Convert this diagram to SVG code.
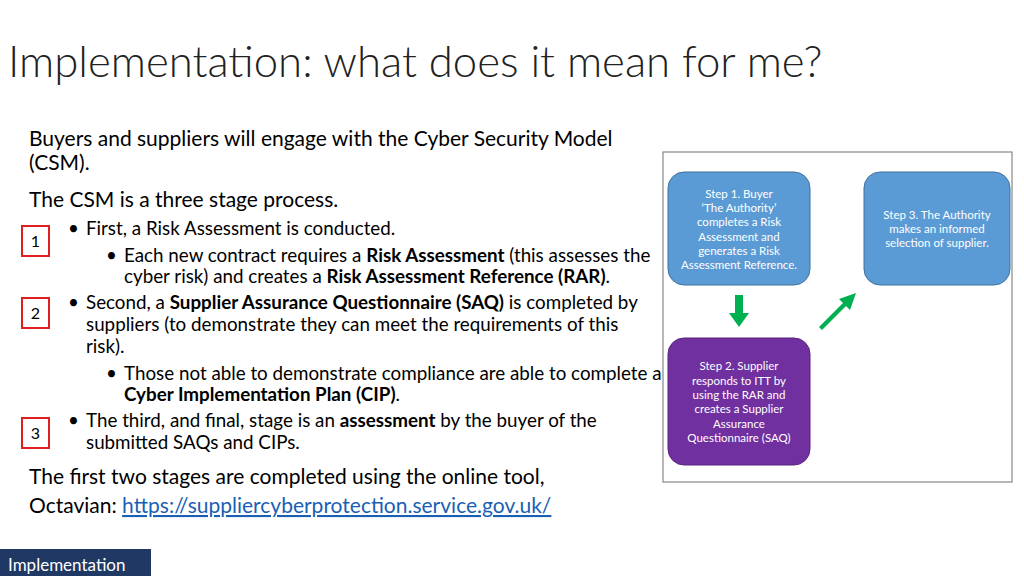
<svg xmlns="http://www.w3.org/2000/svg" width="1024" height="576" viewBox="0 0 1024 576">
<style>
text{font-family:Lato,"Open Sans","Liberation Sans",sans-serif;fill:#000}
.t{font-size:43.7px;fill:#222;font-weight:300}
.b{font-size:21px}
.s{font-size:18.8px}
.n{font-size:11.5px;fill:#fff;text-anchor:middle}
.num{font-size:16px;text-anchor:middle}
.box{fill:none;stroke:#e02020;stroke-width:2}
</style>
<rect width="1024" height="576" fill="#fff"/>
<text class="t" x="8" y="77">Implementation: what does it mean for me?</text>
<text class="b" x="29" y="146">Buyers and suppliers will engage with the Cyber Security Model</text>
<text class="b" x="29" y="170">(CSM).</text>
<text class="b" x="29" y="207">The CSM is a three stage process.</text>
<text class="s" x="68" y="235">•</text><text class="s" x="86" y="235">First, a Risk Assessment is conducted.</text>
<text class="s" x="106" y="262">•</text><text class="s" x="124" y="262">Each new contract requires a <tspan font-weight="bold">Risk Assessment</tspan> (this assesses the</text>
<text class="s" x="124" y="283">cyber risk) and creates a <tspan font-weight="bold">Risk Assessment Reference (RAR)</tspan>.</text>
<text class="s" x="68" y="309">•</text><text class="s" x="86" y="309">Second, a <tspan font-weight="bold">Supplier Assurance Questionnaire (SAQ)</tspan> is completed by</text>
<text class="s" x="86" y="331">suppliers (to demonstrate they can meet the requirements of this</text>
<text class="s" x="86" y="353">risk).</text>
<text class="s" x="106" y="380">•</text><text class="s" x="124" y="380">Those not able to demonstrate compliance are able to complete a</text>
<text class="s" x="124" y="401"><tspan font-weight="bold">Cyber Implementation Plan (CIP)</tspan>.</text>
<text class="s" x="68" y="427">•</text><text class="s" x="86" y="427">The third, and final, stage is an <tspan font-weight="bold">assessment</tspan> by the buyer of the</text>
<text class="s" x="86" y="449">submitted SAQs and CIPs.</text>
<text class="b" x="29" y="484">The first two stages are completed using the online tool,</text>
<text class="b" x="29" y="513">Octavian: <tspan fill="#1a5fb4" text-decoration="underline">https://suppliercyberprotection.service.gov.uk/</tspan></text>
<g id="m1"><rect class="box" x="22" y="226" width="27" height="30"/><text class="num" x="35.5" y="247">1</text></g>
<g id="m2"><rect class="box" x="22" y="298" width="27" height="30"/><text class="num" x="35.5" y="319">2</text></g>
<g id="m3"><rect class="box" x="22" y="418" width="27" height="30"/><text class="num" x="35.5" y="439">3</text></g>
<rect x="0" y="549" width="151" height="27" fill="#1f3864"/>
<text x="8" y="571" style="font-size:17px;fill:#fff">Implementation</text>
<rect x="663" y="152" width="349" height="330" fill="#fff" stroke="#888" stroke-width="1.2"/>
<g id="step1"><rect x="668" y="172" width="142" height="113" rx="16" fill="#5b9bd5" stroke="#41719c"/>
<text class="n" x="739" y="198">Step 1. Buyer</text><text class="n" x="739" y="212">‘The Authority’</text><text class="n" x="739" y="226">completes a Risk</text><text class="n" x="739" y="241">Assessment and</text><text class="n" x="739" y="255">generates a Risk</text><text class="n" x="739" y="269">Assessment Reference.</text></g>
<g id="step3"><rect x="864" y="172" width="146" height="113" rx="16" fill="#5b9bd5" stroke="#41719c"/>
<text class="n" x="937" y="219">Step 3. The Authority</text><text class="n" x="937" y="233">makes an informed</text><text class="n" x="937" y="247">selection of supplier.</text></g>
<g id="step2"><rect x="668" y="338" width="142" height="127" rx="16" fill="#7030a0" stroke="#5a2580"/>
<text class="n" x="739" y="370">Step 2. Supplier</text><text class="n" x="739" y="385">responds to ITT by</text><text class="n" x="739" y="399">using the RAR and</text><text class="n" x="739" y="413">creates a Supplier</text><text class="n" x="739" y="428">Assurance</text><text class="n" x="739" y="442">Questionnaire (SAQ)</text></g>
<g id="connectors" fill="#00b050">
<polygon points="735,295 743,295 743,313 749,313 739,327 729,313 735,313"/>
<polygon points="819,327 843,303 839,299 856,293 850,310 846,306 822,330"/>
</g>
</svg>
